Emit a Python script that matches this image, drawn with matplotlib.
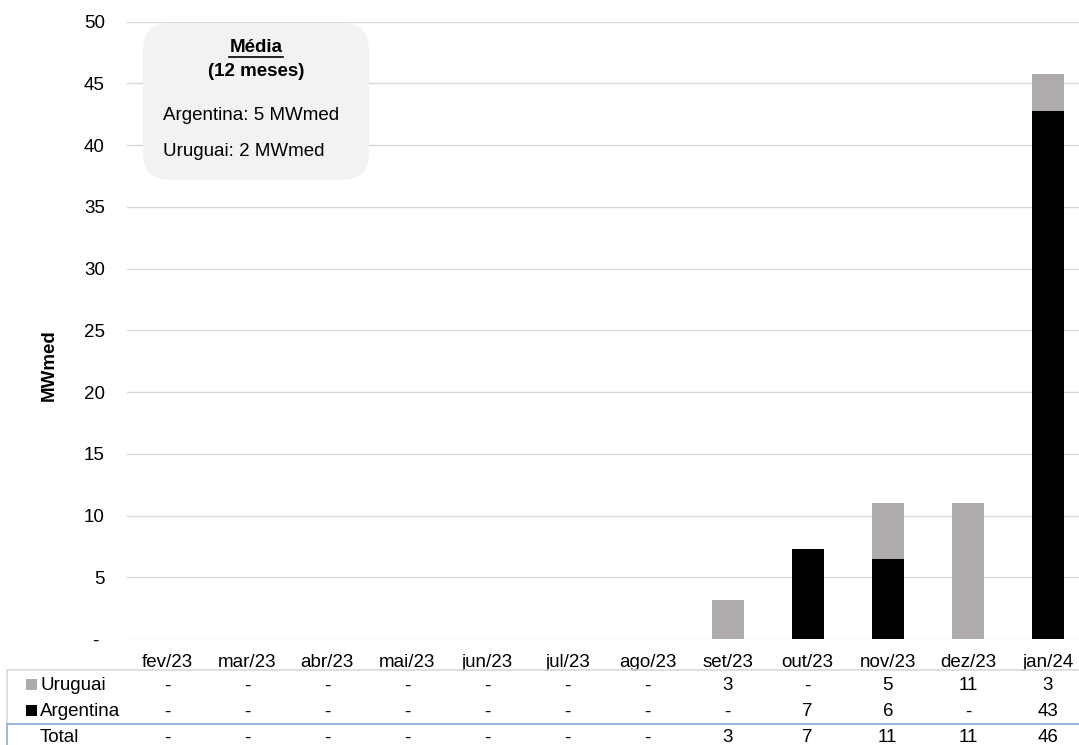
import matplotlib
matplotlib.use("Agg")
import matplotlib.pyplot as plt
import numpy as np
from matplotlib.lines import Line2D
from matplotlib.patches import FancyBboxPatch, Rectangle

plt.rcParams['font.family'] = ['Liberation Sans', 'DejaVu Sans']

months = ['fev/23', 'mar/23', 'abr/23', 'mai/23', 'jun/23', 'jul/23',
          'ago/23', 'set/23', 'out/23', 'nov/23', 'dez/23', 'jan/24']
uruguai = [0, 0, 0, 0, 0, 0, 0, 3.15, 0, 4.58, 11.0, 3.0]
argentina = [0, 0, 0, 0, 0, 0, 0, 0, 7.25, 6.44, 0, 42.8]
yticks = [0, 5, 10, 15, 20, 25, 30, 35, 40, 45, 50]

GRAY = '#afabab'
BLACK = '#000000'
GRID = '#d9d9d9'
FS = 13.5
W, H = 1079, 745

fig = plt.figure(figsize=(W / 100, H / 100), dpi=100)
ax = fig.add_axes([127 / W, 106 / H, (1088 - 127) / W, (723.3 - 106) / H])

x = np.arange(len(months))
arg = np.array(argentina)
uru = np.array(uruguai)
ax.bar(x, arg, width=0.4, color=BLACK, zorder=3)
ax.bar(x, uru, width=0.4, bottom=arg, color=GRAY, zorder=3)

ax.set_xlim(-0.5, len(months) - 0.5)
ax.set_ylim(0, 50)
ax.set_yticks(yticks)
ax.set_yticklabels(['- ' if v == 0 else str(v) for v in yticks], fontsize=FS)
ax.yaxis.grid(True, color=GRID, linewidth=1, zorder=0)
ax.tick_params(axis='y', length=0, pad=16)
ax.set_xticks(x)
ax.set_xticklabels(months, fontsize=FS)
ax.tick_params(axis='x', length=0, pad=11)
for s in ax.spines.values():
    s.set_visible(False)
ax.set_ylabel('MWmed', fontsize=FS, fontweight='bold')
ax.yaxis.set_label_coords((58 - 127) / (1088 - 127), (H - 365 - 106) / (723.3 - 106))


def fmt(v):
    r = int(round(v))
    return '-' if r == 0 else str(r)


rows = [('Uruguai', uru, GRAY, 684),
        ('Argentina', arg, BLACK, 710),
        ('Total', uru + arg, None, 736)]
for name, vals, col, yy in rows:
    yf = H - yy
    for i, v in enumerate(vals):
        ax.annotate(fmt(v), xy=(i, yf), xycoords=('data', 'figure pixels'),
                    ha='center', va='center_baseline', fontsize=FS,
                    annotation_clip=False)
    fig.text(40 / W, yf / H, name, ha='left', va='center_baseline', fontsize=FS)
    if col is not None:
        fig.add_artist(Rectangle((26 / W, (yf - 5.5) / H), 11 / W, 11 / H,
                                 transform=fig.transFigure, facecolor=col,
                                 edgecolor='none'))

# table borders
fig.add_artist(Line2D([7 / W, 1], [(H - 670) / H] * 2, color=GRID, lw=1.2))
fig.add_artist(Line2D([7 / W, 7 / W], [(H - 670) / H, (H - 724) / H], color=GRID, lw=1.2))
fig.add_artist(Line2D([7 / W, 1], [(H - 724) / H] * 2, color='#8faadc', lw=1.2))
fig.add_artist(Line2D([7 / W, 7 / W], [(H - 724) / H, 0], color='#8faadc', lw=1.2))

# average box
box = FancyBboxPatch((143 / W, (H - 180) / H), (369 - 143) / W, (180 - 23) / H,
                     boxstyle='round,pad=0,rounding_size=0.025',
                     transform=fig.transFigure, facecolor='#f2f2f2',
                     edgecolor='none', zorder=5, mutation_aspect=W / H)
fig.add_artist(box)
fig.text(256 / W, (H - 48) / H, 'Média', ha='center', va='center',
         fontsize=FS, fontweight='bold', zorder=6)
fig.add_artist(Line2D([229 / W, 283 / W], [(H - 57) / H] * 2, color='black', lw=1.2, zorder=6))
fig.text(256 / W, (H - 71) / H, '(12 meses)', ha='center', va='center',
         fontsize=FS, fontweight='bold', zorder=6)
fig.text(163 / W, (H - 115) / H, 'Argentina: 5 MWmed', ha='left', va='center',
         fontsize=FS, zorder=6)
fig.text(163 / W, (H - 151) / H, 'Uruguai: 2 MWmed', ha='left', va='center',
         fontsize=FS, zorder=6)

fig.savefig('out.png', dpi=100)
